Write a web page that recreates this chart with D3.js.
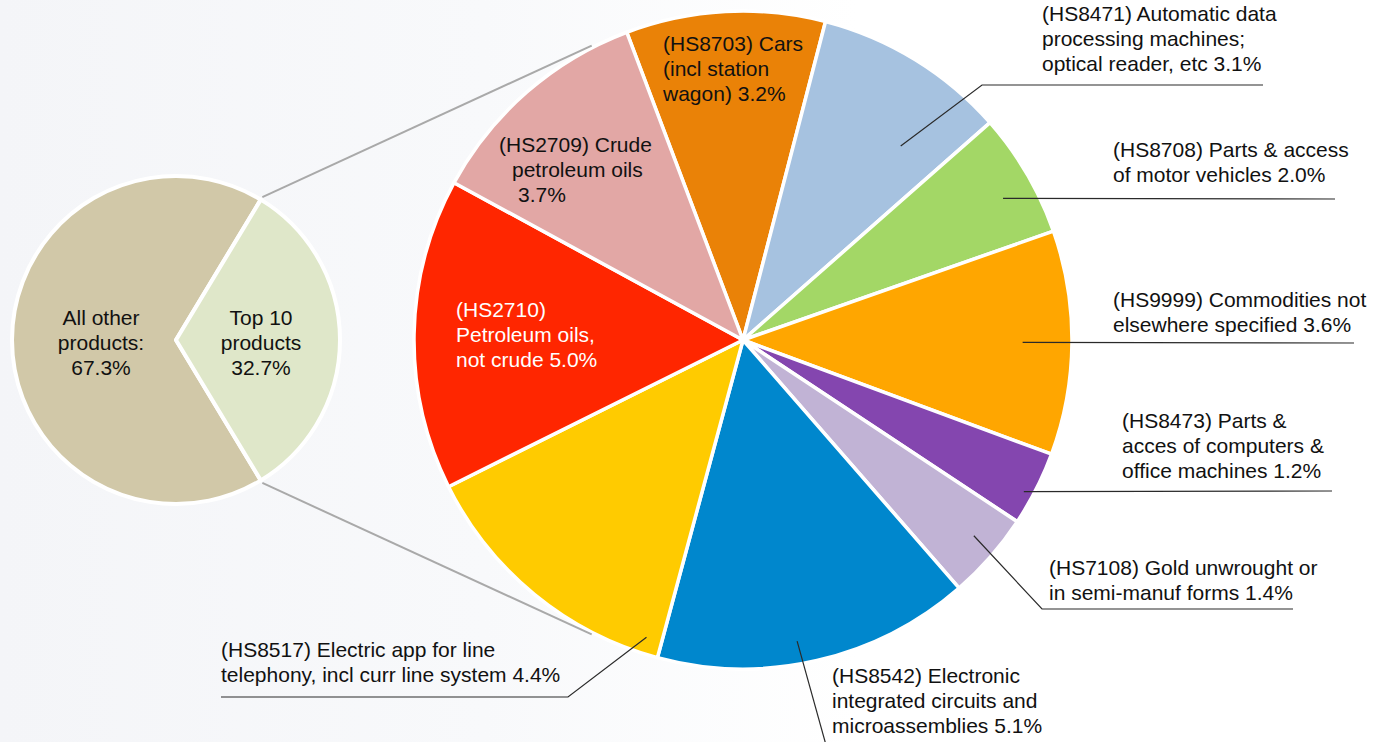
<!DOCTYPE html>
<html>
<head>
<meta charset="utf-8">
<script src="https://cdn.jsdelivr.net/npm/d3@7"></script>
<style>
    body { margin: 0; overflow: hidden; background: #fff; }
    svg text { font-family: "Liberation Sans", Arial, Helvetica, sans-serif; font-size: 21px; }
</style>
</head>
<body>
<svg id="chart"></svg>
<script>
// Overview pie (left)
const overviewNames = ['All other products', 'Top 10 products'];
const overviewShares = [67.3, 32.7];
const overviewLines = [['All other', 'products:', '{p}'], ['Top 10', 'products', '{p}']];
const overviewColors = ['#d1c8a8', '#dfe7c9'];

// Top 10 products, clockwise from the top
const codes = ['HS8703', 'HS8471', 'HS8708', 'HS9999', 'HS8473', 'HS7108', 'HS8542', 'HS8517', 'HS2710', 'HS2709'];
const shares = [3.2, 3.1, 2.0, 3.6, 1.2, 1.4, 5.1, 4.4, 5.0, 3.7];
const labelLines = [
    ['(HS8703) Cars', '(incl station', 'wagon) {p}'],
    ['(HS8471) Automatic data', 'processing machines;', 'optical reader, etc {p}'],
    ['(HS8708) Parts & access', 'of motor vehicles {p}'],
    ['(HS9999) Commodities not', 'elsewhere specified {p}'],
    ['(HS8473) Parts &', 'acces of computers &', 'office machines {p}'],
    ['(HS7108) Gold unwrought or', 'in semi-manuf forms {p}'],
    ['(HS8542) Electronic', 'integrated circuits and', 'microassemblies {p}'],
    ['(HS8517) Electric app for line', 'telephony, incl curr line system {p}'],
    ['(HS2710)', 'Petroleum oils,', 'not crude {p}'],
    ['(HS2709) Crude', 'petroleum oils', '{p}']
];
const colors = ['#ea8207', '#a6c2e0', '#a3d766', '#ffa600', '#8446af', '#c1b3d5', '#0087cd', '#ffcb00', '#ff2600', '#e2a7a5'];

const W = 1383, H = 742;
const BIG = { cx: 743, cy: 340, r: 329, start: -20.7 };
const SMALL = { cx: 176, cy: 340, r: 164 };
const LH = 25;
const rad = d => d * Math.PI / 180;
const fmt = v => v.toFixed(1) + '%';

// label layout: first baseline, per-line x shift, leader (t = position across slice, rf = radius fraction)
const labelLayout = [
    { x: 663, y: 51, fill: '#111' },
    { x: 1042, y: 21, leader: { t: 0.72, rf: 0.76, pts: [[982, 85], [1263, 85]] } },
    { x: 1113, y: 157, leader: { t: 0.58, rf: 0.90, pts: [[1335, 199]] } },
    { x: 1113, y: 307, leader: { t: 0.50, rf: 0.85, pts: [[1354, 343]] } },
    { x: 1122, y: 428, leader: { t: 0.61, rf: 0.97, pts: [[1332, 491]] } },
    { x: 1049, y: 575, leader: { t: 0.44, rf: 0.92, pts: [[1042, 609], [1293, 609]] } },
    { x: 832, y: 683, leader: { t: 0.55, rf: 0.93, pts: [[826, 745]] } },
    { x: 221, y: 657, leader: { t: 0.06, rf: 0.95, pts: [[568, 697], [221, 697]] } },
    { x: 456, y: 317, fill: '#fff' },
    { x: 499, y: 152, fill: '#111', shift: [0, 13, 19] }
];

const svg = d3.select('#chart').attr('width', W).attr('height', H);

// soft background
const grad = svg.append('defs').append('linearGradient').attr('id', 'bg');
grad.append('stop').attr('offset', '0%').attr('stop-color', '#f4f5f8');
grad.append('stop').attr('offset', '35%').attr('stop-color', '#f8f9fb');
grad.append('stop').attr('offset', '62%').attr('stop-color', '#ffffff');
svg.append('rect').attr('width', W).attr('height', H).attr('fill', 'url(#bg)');

// small pie: top-10 wedge centred on the right
const topAngle = overviewShares[1] / 100 * 2 * Math.PI;
const smallPie = d3.pie().sort(null)
    .startAngle(Math.PI / 2 + topAngle / 2)
    .endAngle(Math.PI / 2 + topAngle / 2 + 2 * Math.PI);
const smallArc = d3.arc().innerRadius(0).outerRadius(SMALL.r);
const smallData = smallPie(overviewShares);

const gSmall = svg.append('g').attr('transform', `translate(${SMALL.cx},${SMALL.cy})`);
gSmall.selectAll('path')
    .data(smallData)
    .enter()
    .append('path')
    .attr('d', smallArc)
    .attr('fill', (d, i) => overviewColors[i])
    .attr('stroke', '#fff')
    .attr('stroke-width', 4)
    .attr('stroke-linejoin', 'round');

// big pie
const bigPie = d3.pie().sort(null)
    .startAngle(rad(BIG.start))
    .endAngle(rad(BIG.start) + 2 * Math.PI);
const bigArc = d3.arc().innerRadius(0).outerRadius(BIG.r);
const bigData = bigPie(shares);

const gBig = svg.append('g').attr('transform', `translate(${BIG.cx},${BIG.cy})`);
gBig.selectAll('path')
    .data(bigData)
    .enter()
    .append('path')
    .attr('d', bigArc)
    .attr('fill', (d, i) => colors[i])
    .attr('stroke', '#fff')
    .attr('stroke-width', 3.5)
    .attr('stroke-linejoin', 'round');

// connector lines between the two pies
const polar = (c, r, a) => [c.cx + r * Math.sin(a), c.cy - r * Math.cos(a)];
const topEdges = [smallData[1].startAngle, smallData[1].endAngle];
const bigEdges = [rad(-27.2), rad(207.2)];
topEdges.forEach((a, i) => {
    const p0 = polar(SMALL, SMALL.r + 3, a);
    const p1 = polar(BIG, BIG.r + 2, bigEdges[i]);
    svg.append('line')
        .attr('x1', p0[0]).attr('y1', p0[1])
        .attr('x2', p1[0]).attr('y2', p1[1])
        .attr('stroke', '#a9a9a9')
        .attr('stroke-width', 2);
});

// leader lines
bigData.forEach((d, i) => {
    const lead = labelLayout[i].leader;
    if (!lead) return;
    const a = d.startAngle + lead.t * (d.endAngle - d.startAngle);
    const pts = [polar(BIG, BIG.r * lead.rf, a)].concat(lead.pts);
    svg.append('path')
        .attr('d', d3.line()(pts))
        .attr('fill', 'none')
        .attr('stroke', '#2a2a2a')
        .attr('stroke-width', 1.2);
});

// text labels
function drawLabel(lines, x, y, opts) {
    const t = svg.append('text')
        .attr('fill', opts.fill || '#111')
        .attr('text-anchor', opts.anchor || 'start');
    lines.forEach((line, j) => {
        t.append('tspan')
            .attr('x', x + ((opts.shift && opts.shift[j]) || 0))
            .attr('y', y + j * LH)
            .text(line);
    });
}

labelLines.forEach((lines, i) => {
    const lay = labelLayout[i];
    drawLabel(lines.map(s => s.replace('{p}', fmt(shares[i]))), lay.x, lay.y, lay);
});

const overviewPos = [[101, 325], [261, 325]];
overviewLines.forEach((lines, i) => {
    drawLabel(lines.map(s => s.replace('{p}', fmt(overviewShares[i]))),
        overviewPos[i][0], overviewPos[i][1], { anchor: 'middle' });
});
</script>
</body>
</html>
